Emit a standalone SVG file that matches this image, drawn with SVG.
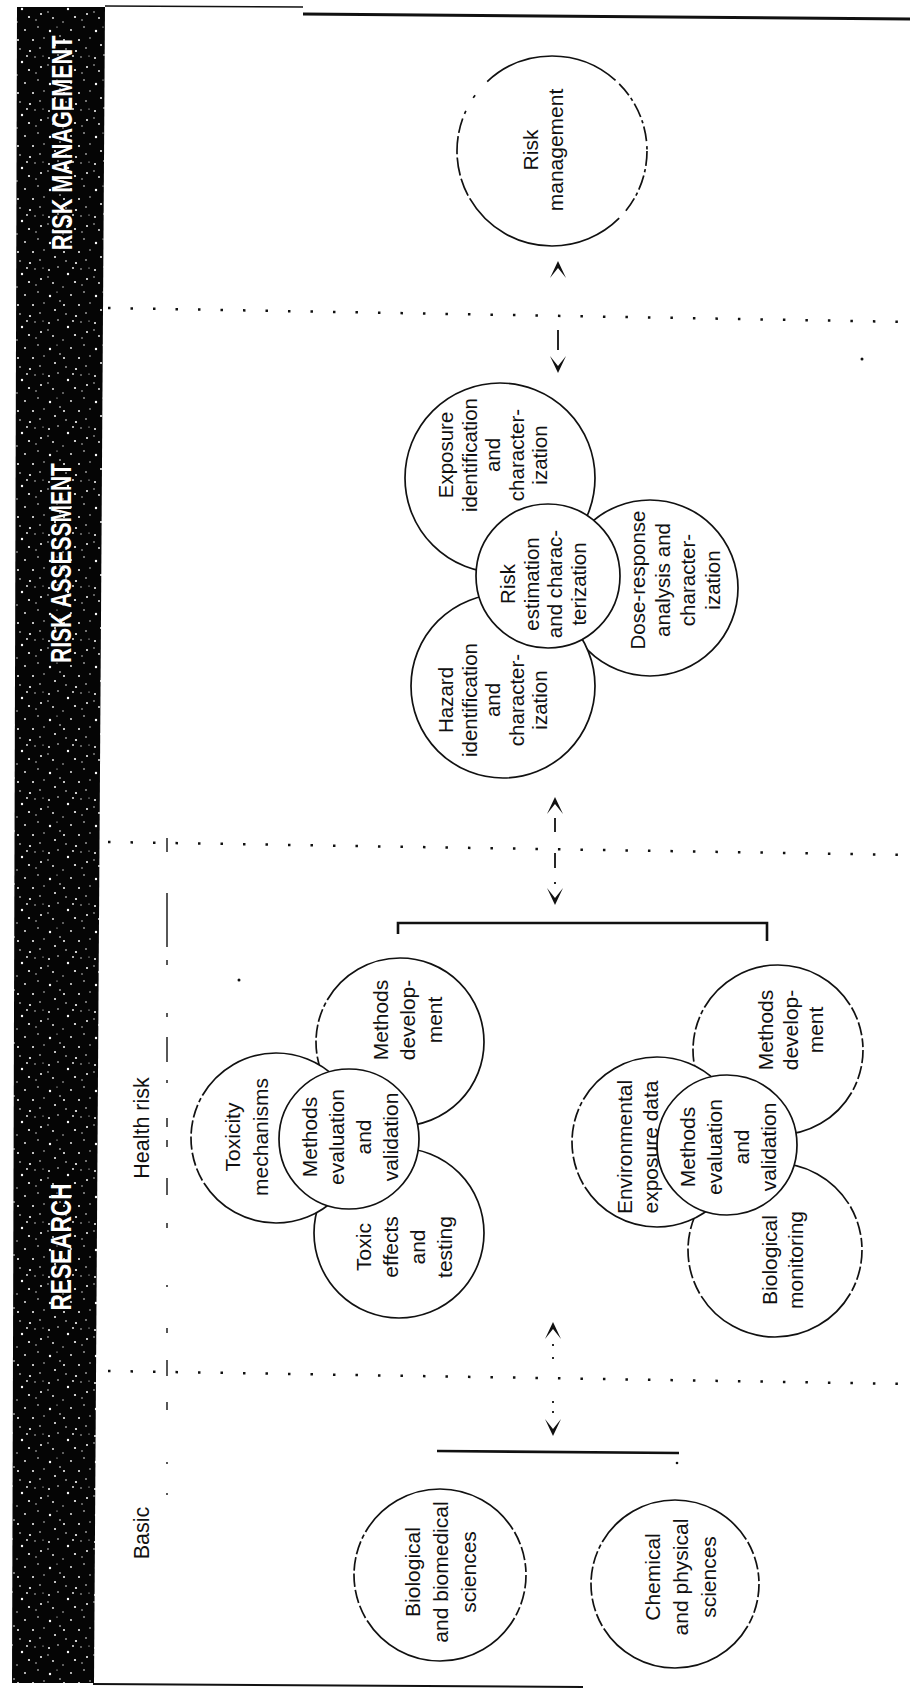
<svg xmlns="http://www.w3.org/2000/svg" width="910" height="1691" viewBox="0 0 910 1691">
<style>
.c{fill:#fff;stroke:#111;stroke-width:1.7}
.dlr{stroke-dasharray:9 2 9 2 6 2 118 2 9 2 9 2 9 2 9 2 9 2 3 2 118 2 9 2 9 2 6 2}
.dl{stroke-dasharray:148 2 9 2 9 2 9 2 9 2 9 2 3 2 150 0}
.drm{stroke-dasharray:9 2 2 2 9 2 2 2 9 6 105 2 11 2 11 2 11 2 9 3 2 9 2 11 85 3 9 2 2 2 9 2 2 2 9 3 2 3}
.t{font-family:"Liberation Sans",Arial,sans-serif;font-size:21px;fill:#111;text-anchor:middle}
.ts{font-size:20.5px}
.lbl{font-family:"Liberation Sans",Arial,sans-serif;font-size:21.5px;fill:#111;text-anchor:middle}
.band{font-family:"Liberation Sans",Arial,sans-serif;font-weight:bold;font-size:30px;fill:#fff;text-anchor:middle}
.sep{stroke:#111;stroke-width:2.5;stroke-dasharray:2.5 20;fill:none}
.vd{stroke:#111;stroke-width:1.4;fill:none}
.conn{stroke:#111;stroke-width:1.8;fill:none;marker-start:url(#ah);marker-end:url(#ah)}
.br{stroke:#111;stroke-width:2.6;fill:none}
</style>
<defs>
<marker id="ah" viewBox="0 0 17 16" refX="17" refY="8" markerWidth="17" markerHeight="16" markerUnits="userSpaceOnUse" orient="auto-start-reverse">
<path d="M17,8 L0,0 L10,8 L0,16 Z" fill="#111"/>
</marker>
<pattern id="speck" width="46" height="53" patternUnits="userSpaceOnUse">
<rect width="46" height="53" fill="#050505"/>
<g fill="#fff">
<circle cx="3" cy="5" r="1"/><circle cx="12" cy="2" r="0.8"/><circle cx="22" cy="9" r="1.2"/><circle cx="35" cy="4" r="0.7"/>
<circle cx="41" cy="14" r="1"/><circle cx="7" cy="18" r="0.9"/><circle cx="17" cy="22" r="0.7"/><circle cx="29" cy="17" r="1.1"/>
<circle cx="38" cy="27" r="0.8"/><circle cx="4" cy="31" r="1.2"/><circle cx="14" cy="36" r="0.8"/><circle cx="25" cy="30" r="0.9"/>
<circle cx="33" cy="40" r="1"/><circle cx="44" cy="38" r="0.7"/><circle cx="9" cy="45" r="1"/><circle cx="20" cy="49" r="0.8"/>
<circle cx="30" cy="51" r="1.1"/><circle cx="40" cy="48" r="0.8"/><circle cx="2" cy="12" r="0.7"/><circle cx="27" cy="3" r="0.9"/>
<circle cx="18" cy="40" r="1"/><circle cx="36" cy="20" r="0.7"/><circle cx="11" cy="27" r="0.6"/><circle cx="43" cy="3" r="0.6"/>
</g>
</pattern>
</defs>
<rect width="910" height="1691" fill="#fff"/>

<g id="frame">
<polygon points="17,7 105,7 94,1683 12,1683" fill="url(#speck)"/>
<line x1="105" y1="6" x2="303" y2="7" stroke="#111" stroke-width="1.5"/>
<line x1="303" y1="14" x2="910" y2="19" stroke="#111" stroke-width="3"/>
<line x1="93" y1="1684" x2="583" y2="1687" stroke="#111" stroke-width="2"/>
<line class="sep" x1="108" y1="308" x2="910" y2="322"/>
<line class="sep" x1="108" y1="842" x2="910" y2="855"/>
<line class="sep" x1="108" y1="1371" x2="910" y2="1384"/>
<path class="vd" d="M167,838V852M167,893V947M167,960V965M167,1013V1017M167,1037V1062M167,1080V1083M167,1118V1127M167,1140V1147M167,1178V1195M167,1223V1228M167,1285V1287M167,1328V1333M167,1360V1376M167,1402V1410M167,1462V1464M167,1493V1495"/>
<circle cx="862" cy="359" r="1.5" fill="#111"/>
<circle cx="239" cy="980" r="1.5" fill="#111"/>
<text class="band" transform="translate(72,143) rotate(-90) scale(0.72,1)">RISK MANAGEMENT</text>
<text class="band" transform="translate(71,563) rotate(-90) scale(0.70,1)">RISK ASSESSMENT</text>
<text class="band" transform="translate(71,1247) rotate(-90) scale(0.755,1)">RESEARCH</text>
<text class="lbl" transform="translate(149,1128) rotate(-90)">Health risk</text>
<text class="lbl" transform="translate(149,1533) rotate(-90)">Basic</text>
</g>

<g id="connectors">
<path class="conn" d="M558,261 L558,373" stroke-dasharray="0 69 20 40"/>
<path class="conn" d="M555,797 L555,905" stroke-dasharray="0 21 14 21 15 14 2 40"/>
<path class="conn" d="M553,1322 L553,1436" stroke-dasharray="0 22 2 11 2 42 2 8 2 40"/>
<path class="br" d="M398,934 V923 H767 V941"/>
<path class="br" d="M437,1451 L679,1453"/>
<circle cx="677" cy="1463" r="1.3" fill="#111"/>
</g>

<g id="risk-management">
<circle class="c drm" cx="552" cy="151" r="95" pathLength="360"/>
<text class="t" transform="translate(538,150) rotate(-90)"><tspan x="0" y="0">Risk</tspan><tspan x="0" y="25">management</tspan></text>
</g>

<g id="dose-response">
<circle class="c" cx="650" cy="588" r="88"/>
<text class="t ts" transform="translate(645,580) rotate(-90)"><tspan x="0" y="0">Dose-response</tspan><tspan x="0" y="25">analysis and</tspan><tspan x="0" y="50">character-</tspan><tspan x="0" y="75">ization</tspan></text>
</g>
<g id="exposure-identification">
<circle class="c" cx="500" cy="478" r="95"/>
<text class="t ts" transform="translate(453,455) rotate(-90)"><tspan x="0" y="0">Exposure</tspan><tspan x="0" y="23.5">identification</tspan><tspan x="0" y="47">and</tspan><tspan x="0" y="70.5">character-</tspan><tspan x="0" y="94">ization</tspan></text>
</g>
<g id="hazard-identification">
<circle class="c" cx="503" cy="686" r="92"/>
<text class="t ts" transform="translate(453,700) rotate(-90)"><tspan x="0" y="0">Hazard</tspan><tspan x="0" y="23.5">identification</tspan><tspan x="0" y="47">and</tspan><tspan x="0" y="70.5">character-</tspan><tspan x="0" y="94">ization</tspan></text>
</g>
<g id="risk-estimation">
<circle class="c" cx="548" cy="576" r="72"/>
<text class="t ts" transform="translate(515,584) rotate(-90)"><tspan x="0" y="0">Risk</tspan><tspan x="0" y="23.5">estimation</tspan><tspan x="0" y="47">and charac-</tspan><tspan x="0" y="70.5">terization</tspan></text>
</g>

<g id="methods-development-1">
<circle class="c dl" cx="400" cy="1042" r="84" pathLength="360"/>
<text class="t" transform="translate(388,1020) rotate(-90)"><tspan x="0" y="0">Methods</tspan><tspan x="0" y="27">develop-</tspan><tspan x="0" y="54">ment</tspan></text>
</g>
<g id="toxic-effects">
<circle class="c" cx="399" cy="1233" r="85"/>
<text class="t" transform="translate(371,1247) rotate(-90)"><tspan x="0" y="0">Toxic</tspan><tspan x="0" y="27">effects</tspan><tspan x="0" y="54">and</tspan><tspan x="0" y="81">testing</tspan></text>
</g>
<g id="toxicity-mechanisms">
<circle class="c dl" cx="276" cy="1138" r="85" pathLength="360"/>
<text class="t" transform="translate(240,1137) rotate(-90)"><tspan x="0" y="0">Toxicity</tspan><tspan x="0" y="28">mechanisms</tspan></text>
</g>
<g id="methods-evaluation-1">
<circle class="c" cx="349" cy="1139" r="70"/>
<text class="t" transform="translate(317,1137) rotate(-90)"><tspan x="0" y="0">Methods</tspan><tspan x="0" y="27">evaluation</tspan><tspan x="0" y="54">and</tspan><tspan x="0" y="81">validation</tspan></text>
</g>

<g id="methods-development-2">
<circle class="c dlr" cx="778" cy="1050" r="85" pathLength="360"/>
<text class="t" transform="translate(773,1030) rotate(-90)"><tspan x="0" y="0">Methods</tspan><tspan x="0" y="25">develop-</tspan><tspan x="0" y="50">ment</tspan></text>
</g>
<g id="biological-monitoring">
<circle class="c dlr" cx="775" cy="1250" r="87" pathLength="360"/>
<text class="t" transform="translate(777,1260) rotate(-90)"><tspan x="0" y="0">Biological</tspan><tspan x="0" y="26">monitoring</tspan></text>
</g>
<g id="environmental-exposure">
<circle class="c dl" cx="657" cy="1142" r="85" pathLength="360"/>
<text class="t" transform="translate(632,1147) rotate(-90)"><tspan x="0" y="0">Environmental</tspan><tspan x="0" y="26">exposure data</tspan></text>
</g>
<g id="methods-evaluation-2">
<circle class="c" cx="727" cy="1145" r="70"/>
<text class="t" transform="translate(695,1147) rotate(-90)"><tspan x="0" y="0">Methods</tspan><tspan x="0" y="27">evaluation</tspan><tspan x="0" y="54">and</tspan><tspan x="0" y="81">validation</tspan></text>
</g>

<g id="biological-sciences">
<circle class="c dlr" cx="440" cy="1575" r="86" pathLength="360"/>
<text class="t" transform="translate(420,1572) rotate(-90)"><tspan x="0" y="0">Biological</tspan><tspan x="0" y="28">and biomedical</tspan><tspan x="0" y="56">sciences</tspan></text>
</g>
<g id="chemical-sciences">
<circle class="c dlr" cx="675" cy="1584" r="84" pathLength="360"/>
<text class="t" transform="translate(660,1577) rotate(-90)"><tspan x="0" y="0">Chemical</tspan><tspan x="0" y="28">and physical</tspan><tspan x="0" y="56">sciences</tspan></text>
</g>
</svg>
